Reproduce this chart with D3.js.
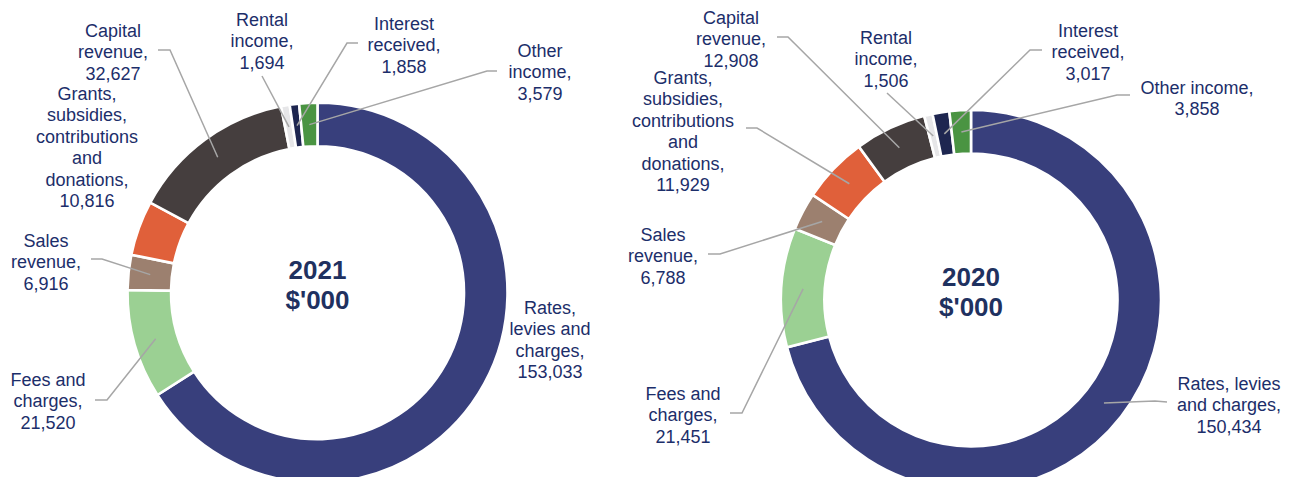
<!DOCTYPE html>
<html>
<head>
<meta charset="utf-8">
<script src="https://cdn.jsdelivr.net/npm/d3@7"></script>
<style>
  body { margin: 0; background: #fff; }
  svg text { font-family: "Liberation Sans", Arial, sans-serif; }
</style>
</head>
<body>
<div id="chart"></div>
<script>
// Data
var categories = ["Rates, levies and charges", "Fees and charges", "Sales revenue",
    "Grants, subsidies, contributions and donations", "Capital revenue",
    "Rental income", "Interest received", "Other income"];
var values2021 = [153033, 21520, 6916, 10816, 32627, 1694, 1858, 3579];
var values2020 = [150434, 21451, 6788, 11929, 12908, 1506, 3017, 3858];
var colors = ["#383f7c", "#9bd093", "#9c806f", "#e0603a", "#453e3e", "#e6e6e8", "#1e2650", "#4a9442"];

var svgWidth = 1296;
var svgHeight = 477;
var outerR = 190;
var innerR = 146.5;
var textColor = "#1c2e6a";
var fmt = d3.format(",");

// label layout per chart: centre x, first line y, wrapped name, leader start points
var layout2021 = [
    { x: 550, y: 307, lines: ["Rates,", "levies and", "charges,"], leader: null },
    { x: 48, y: 379, lines: ["Fees and", "charges,"], leader: [[95, 400], [107, 400]] },
    { x: 46, y: 240, lines: ["Sales", "revenue,"], leader: [[91, 259], [102, 259]] },
    { x: 87, y: 93, lines: ["Grants,", "subsidies,", "contributions", "and", "donations,"], leader: null },
    { x: 113, y: 30, lines: ["Capital", "revenue,"], leader: [[158, 50], [170, 50]] },
    { x: 262, y: 19, lines: ["Rental", "income,"], leader: [[262, 76]] },
    { x: 404, y: 23, lines: ["Interest", "received,"], leader: [[358, 43], [347, 43]] },
    { x: 540, y: 50, lines: ["Other", "income,"], leader: [[497, 71], [487, 71]] }
];
var layout2020 = [
    { x: 1229, y: 383, lines: ["Rates, levies", "and charges,"], leader: [[1167, 402], [1155, 401]] },
    { x: 683, y: 393, lines: ["Fees and", "charges,"], leader: [[730, 413], [742, 413]] },
    { x: 663, y: 234, lines: ["Sales", "revenue,"], leader: [[708, 254], [720, 254]] },
    { x: 683, y: 77, lines: ["Grants,", "subsidies,", "contributions", "and", "donations,"], leader: [[746, 128], [757, 128]] },
    { x: 731, y: 17, lines: ["Capital", "revenue,"], leader: [[777, 37], [788, 37]] },
    { x: 886, y: 37, lines: ["Rental", "income,"], leader: [[887, 93]] },
    { x: 1088, y: 30, lines: ["Interest", "received,"], leader: [[1042, 50], [1030, 50]] },
    { x: 1197, y: 87, lines: ["Other income,"], leader: [[1130, 95], [1117, 95]] }
];

var svg = d3.select("#chart")
    .append("svg")
    .attr("width", svgWidth)
    .attr("height", svgHeight);

var pie = d3.pie().sort(null).value(d => d.value);
var arc = d3.arc().innerRadius(innerR).outerRadius(outerR);
var centroidArc = d3.arc().innerRadius((innerR + outerR) / 2).outerRadius((innerR + outerR) / 2);

function drawDonut(cx, cy, values, year, layout) {
    var data = categories.map((c, i) => ({ name: c, value: values[i], color: colors[i], lab: layout[i] }));
    var arcs = pie(data);

    var g = svg.append("g").attr("transform", `translate(${cx}, ${cy})`);

    g.selectAll("path.slice")
        .data(arcs)
        .join("path")
        .attr("class", "slice")
        .attr("d", arc)
        .attr("fill", d => d.data.color)
        .attr("stroke", "#fff")
        .attr("stroke-width", 2.6);

    // leader lines
    var line = d3.line();
    arcs.forEach(d => {
        if (!d.data.lab.leader) return;
        var c = centroidArc.centroid(d);
        var pts = d.data.lab.leader.concat([[cx + c[0], cy + c[1]]]);
        svg.append("path")
            .attr("d", line(pts))
            .attr("fill", "none")
            .attr("stroke", "#a6a6a6")
            .attr("stroke-width", 1.5);
    });

    // labels
    arcs.forEach(d => {
        var lab = d.data.lab;
        var lines = lab.lines.concat([fmt(d.data.value)]);
        var t = svg.append("text")
            .attr("text-anchor", "middle")
            .attr("font-size", "18px")
            .attr("fill", textColor);
        lines.forEach((s, i) => {
            t.append("tspan")
                .attr("x", lab.x)
                .attr("y", lab.y + 6.5 + i * 21.5)
                .text(s);
        });
    });

    // centre title
    g.append("text")
        .attr("text-anchor", "middle")
        .attr("y", -14)
        .attr("font-size", "26px")
        .attr("font-weight", "bold")
        .attr("fill", "#1f3160")
        .text(year);
    g.append("text")
        .attr("text-anchor", "middle")
        .attr("y", 16)
        .attr("font-size", "26px")
        .attr("font-weight", "bold")
        .attr("fill", "#1f3160")
        .text("$'000");
}

drawDonut(317.5, 292.7, values2021, "2021", layout2021);
drawDonut(971, 300, values2020, "2020", layout2020);
</script>
</body>
</html>
